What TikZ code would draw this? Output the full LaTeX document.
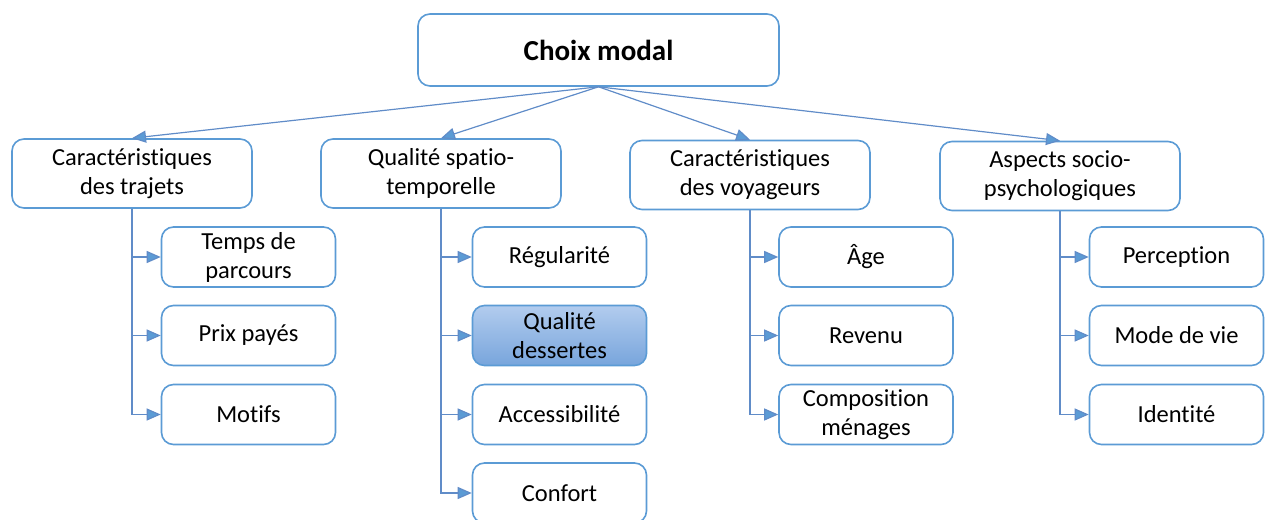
\documentclass[tikz,border=0pt]{standalone}
\usepackage{fontspec}
\setmainfont[Ligatures={NoCommon}]{Carlito}
\usepackage{xcolor}
\usepackage{tikz}
\usetikzlibrary{arrows.meta,positioning,calc}
\definecolor{boxblue}{RGB}{91,155,213}
\definecolor{linkblue}{RGB}{96,140,200}
\definecolor{shadetop}{RGB}{178,204,238}
\definecolor{shadebot}{RGB}{120,165,220}

\tikzset{
  box/.style={draw=boxblue, line width=1.6pt, rounded corners=12pt, fill=white,
    align=center, inner sep=0pt, font=\fontsize{24.5}{29}\selectfont},
  topbox/.style={box, minimum width=361pt, minimum height=72pt,
    font=\fontsize{29}{35}\selectfont\bfseries},
  catbox/.style={box, minimum width=240pt, minimum height=69pt},
  itembox/.style={box, minimum width=174pt, minimum height=60pt},
  hilite/.style={top color=shadetop, bottom color=shadebot},
  link/.style={draw=linkblue, line width=1.2pt,
    -{Triangle[length=14pt,width=12pt,fill=boxblue]}}
}

\begin{document}
\begin{tikzpicture}[x=1pt, y=-1pt]
    \useasboundingbox (0,0) rectangle (1265,519);

    % Root
    \node[topbox] (choix) at (598.5,50) {Choix modal};

    % Categories
    \node[catbox] (trajets) at (132,173.5) {Caractéristiques\\des trajets};
    \node[catbox] (spatio) at (441,173.5) {Qualité spatio-\\temporelle};
    \node[catbox] (voyageurs) at (750,175) {Caractéristiques\\des voyageurs};
    \node[catbox] (socio) at (1060,176) {Aspects socio-\\psychologiques};

    \foreach \c in {trajets,spatio,voyageurs,socio}
        \draw[link] (choix.south) -- (\c.north);

    % Column 1
    \node[itembox] (temps) at (248.5,257) {Temps de\\parcours};
    \node[itembox] (prix) at (248.5,335.5) {Prix payés};
    \node[itembox] (motifs) at (248.5,414.5) {Motifs};

    % Column 2
    \node[itembox] (regul) at (559.5,257) {Régularité};
    \node[itembox, hilite] (dessertes) at (559.5,335.5) {Qualité\\dessertes};
    \node[itembox] (access) at (559.5,414.5) {Accessibilité};
    \node[itembox] (confort) at (559.5,493) {Confort};

    % Column 3
    \node[itembox] (age) at (866,257) {Âge};
    \node[itembox] (revenu) at (866,335.5) {Revenu};
    \node[itembox] (menages) at (866,414.5) {Composition\\ménages};

    % Column 4
    \node[itembox] (percep) at (1176.5,257) {Perception};
    \node[itembox] (vie) at (1176.5,335.5) {Mode de vie};
    \node[itembox] (ident) at (1176.5,414.5) {Identité};

    % Branches
    \foreach \c in {temps,prix,motifs}
        \draw[link] (trajets.south) |- (\c.west);
    \foreach \c in {regul,dessertes,access,confort}
        \draw[link] (spatio.south) |- (\c.west);
    \foreach \c in {age,revenu,menages}
        \draw[link] (voyageurs.south) |- (\c.west);
    \foreach \c in {percep,vie,ident}
        \draw[link] (socio.south) |- (\c.west);
\end{tikzpicture}
\end{document}
